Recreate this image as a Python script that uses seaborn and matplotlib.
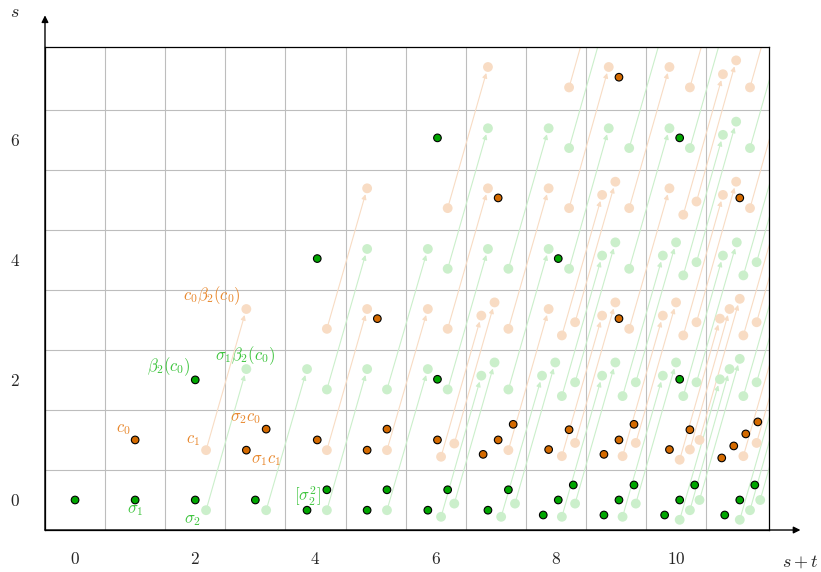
import matplotlib
matplotlib.use("Agg")
import matplotlib.pyplot as plt
import pandas as pd
import seaborn as sns
from matplotlib.patches import FancyArrowPatch

# permanent classes (solid dots)
green_solid_x = [0, 1, 2, 3, 3.86, 4.19, 4.86, 5.19, 5.87, 6.2, 6.87, 7.21,
                 7.79, 8.04, 8.29, 8.8, 9.05, 9.3, 9.81, 10.06, 10.31, 10.81, 11.06, 11.31,
                 2.0, 4.03, 6.03, 6.03, 8.04, 10.06, 10.06]
green_solid_y = [0, 0, 0, 0, -0.17, 0.17, -0.17, 0.17, -0.17, 0.17, -0.17, 0.17,
                 -0.25, 0, 0.25, -0.25, 0, 0.25, -0.25, 0, 0.25, -0.25, 0, 0.25,
                 2.0, 4.02, 6.03, 2.01, 4.02, 6.03, 2.01]
orange_solid_x = [1.0, 2.85, 3.18, 4.03, 4.86, 5.19, 6.03, 6.79, 7.04, 7.29,
                  7.88, 8.22, 8.8, 9.05, 9.3, 9.89, 10.23, 10.76, 10.96, 11.16, 11.36,
                  5.03, 7.04, 9.05, 9.05, 11.06]
orange_solid_y = [1.0, 0.83, 1.18, 1.0, 0.83, 1.18, 1.0, 0.76, 1.0, 1.26,
                  0.84, 1.17, 0.76, 1.0, 1.26, 0.84, 1.17, 0.7, 0.9, 1.1, 1.3,
                  3.02, 5.03, 3.02, 7.04, 5.03]

# differentials: source -> target (faded dots)
green_src_x = [2.18, 3.18, 4.19, 5.19, 6.09, 6.31, 7.09, 7.32, 8.1, 8.32, 9.11, 9.33,
               10.06, 10.23, 10.39, 11.06, 11.23, 11.4,
               4.19, 5.19, 6.2, 7.21, 8.1, 8.32, 9.11, 9.33, 10.12, 10.34, 11.12, 11.34,
               6.2, 7.21, 8.22, 9.22, 10.12, 10.34, 11.12, 11.34,
               8.22, 9.22, 10.23, 11.23]
green_src_y = [-0.17, -0.17, -0.17, -0.17, -0.28, -0.06, -0.28, -0.06, -0.28, -0.06, -0.28, -0.06,
               -0.33, -0.17, 0.0, -0.33, -0.17, 0.0,
               1.84, 1.84, 1.84, 1.84, 1.73, 1.96, 1.73, 1.96, 1.73, 1.96, 1.73, 1.96,
               3.85, 3.85, 3.85, 3.85, 3.74, 3.96, 3.74, 3.96,
               5.86, 5.86, 5.86, 5.86]
green_tgt_x = [2.85, 3.86, 4.86, 5.87, 6.76, 6.98, 7.77, 7.99, 8.77, 8.99, 9.78, 10.0,
               10.73, 10.89, 11.06, 11.73, 11.89, 12.06,
               4.86, 5.87, 6.87, 7.88, 8.77, 8.99, 9.78, 10.0, 10.78, 11.01, 11.79, 12.01,
               6.87, 7.88, 8.88, 9.89, 10.78, 11.0, 11.79, 12.0,
               8.88, 9.89, 10.89, 11.89]
green_tgt_y = [2.18, 2.18, 2.18, 2.18, 2.07, 2.29, 2.07, 2.29, 2.07, 2.29, 2.07, 2.29,
               2.01, 2.18, 2.35, 2.01, 2.18, 2.35,
               4.18, 4.18, 4.18, 4.18, 4.07, 4.29, 4.07, 4.29, 4.07, 4.29, 4.07, 4.29,
               6.19, 6.19, 6.19, 6.19, 6.08, 6.3, 6.08, 6.3,
               8.19, 8.19, 8.19, 8.19]

orange_src_x = [2.18, 4.19, 5.19, 6.09, 6.31, 7.21, 8.1, 8.32, 9.11, 9.33,
                10.06, 10.23, 10.39, 11.12, 11.34,
                4.19, 6.2, 7.21, 8.1, 8.32, 9.22, 10.12, 10.34, 11.12, 11.34,
                6.2, 8.22, 9.22, 10.12, 10.34, 11.23,
                8.22, 10.23, 11.23]
orange_src_y = [0.83, 0.83, 0.83, 0.72, 0.94, 0.83, 0.73, 0.95, 0.73, 0.95,
                0.67, 0.84, 1.0, 0.73, 0.95,
                2.85, 2.85, 2.85, 2.74, 2.96, 2.85, 2.74, 2.96, 2.74, 2.96,
                4.86, 4.86, 4.86, 4.75, 4.97, 4.86,
                6.87, 6.87, 6.87]
orange_tgt_x = [2.85, 4.86, 5.87, 6.76, 6.98, 7.88, 8.77, 8.99, 9.78, 10.0,
                10.73, 10.89, 11.06, 11.79, 12.0,
                4.86, 6.87, 7.88, 8.77, 8.99, 9.89, 10.78, 11.0, 11.79, 12.0,
                6.87, 8.88, 9.89, 10.78, 11.0, 11.89,
                8.88, 10.89, 11.89]
orange_tgt_y = [3.18, 3.18, 3.18, 3.07, 3.29, 3.18, 3.07, 3.29, 3.07, 3.29,
                3.02, 3.18, 3.35, 3.07, 3.29,
                5.19, 5.19, 5.19, 5.08, 5.3, 5.19, 5.08, 5.3, 5.08, 5.3,
                7.21, 7.21, 7.21, 7.09, 7.32, 7.21,
                9.21, 9.21, 9.21]

# class names
green_labels = [r"$\sigma_1$", r"$\sigma_2$", r"$\beta_2(c_0)$", r"$\sigma_1\beta_2(c_0)$", r"$[\sigma_2^2]$"]
green_label_x = [1.0, 1.945, 1.555, 2.833, 3.862]
green_label_y = [-0.155, -0.322, 2.222, 2.40, 0.055]
orange_labels = [r"$c_0$", r"$c_1$", r"$\sigma_2c_0$", r"$\sigma_1c_1$", r"$c_0\beta_2(c_0)$"]
orange_label_x = [0.795, 1.962, 2.833, 3.183, 2.278]
orange_label_y = [1.195, 1.01, 1.372, 0.678, 3.40]

x_ticks = [0, 2, 4, 6, 8, 10]
y_ticks = [0, 2, 4, 6]

GREEN = "#00a600"
ORANGE = "#d46a00"
GREEN_FADE = "#cbefcb"
ORANGE_FADE = "#f8dcc4"
GREEN_TEXT = "#3cc43c"
ORANGE_TEXT = "#e8872c"

sns.set_theme(style="white")
plt.rcParams["mathtext.fontset"] = "cm"
plt.rcParams["font.family"] = ["DejaVu Serif"]

fig = plt.figure(figsize=(8.21, 5.72), dpi=100)
ax = fig.add_axes([0.0548, 0.0734, 0.8814, 0.8441])
ax.set_xlim(-0.5, 11.54)
ax.set_ylim(-0.5, 7.54)

# grid on half-integers
ax.set_xticks([i + 0.5 for i in range(11)], minor=True)
ax.set_yticks([i + 0.5 for i in range(7)], minor=True)
ax.grid(which="minor", color="#bdbdbd", lw=0.8)
ax.grid(which="major", visible=False)
ax.set_axisbelow(True)

ax.set_xticks(x_ticks, labels=[f"${t}$" for t in x_ticks], fontsize=12.5)
ax.set_yticks(y_ticks, labels=[f"${t}$" for t in y_ticks], fontsize=12.5)
ax.tick_params(axis="x", which="both", length=0, pad=15)
ax.tick_params(axis="y", which="both", length=0, pad=18)
for sp in ax.spines.values():
    sp.set_color("black")
    sp.set_linewidth(0.9)


def draw_diffs(sx, sy, tx, ty, color):
    for a, b, c, d in zip(sx, sy, tx, ty):
        arr = FancyArrowPatch((a, b), (c, d), arrowstyle="-|>", mutation_scale=7,
                              lw=0.8, color=color, shrinkA=0, shrinkB=4.5, zorder=1)
        ax.add_patch(arr)


draw_diffs(green_src_x, green_src_y, green_tgt_x, green_tgt_y, GREEN_FADE)
draw_diffs(orange_src_x, orange_src_y, orange_tgt_x, orange_tgt_y, ORANGE_FADE)

faded = pd.DataFrame({
    "x": green_src_x + green_tgt_x + orange_src_x + orange_tgt_x,
    "y": green_src_y + green_tgt_y + orange_src_y + orange_tgt_y,
    "kind": ["g"] * (2 * len(green_src_x)) + ["o"] * (2 * len(orange_src_x)),
})
solid = pd.DataFrame({
    "x": green_solid_x + orange_solid_x,
    "y": green_solid_y + orange_solid_y,
    "kind": ["g"] * len(green_solid_x) + ["o"] * len(orange_solid_x),
})

sns.scatterplot(data=faded, x="x", y="y", hue="kind", palette={"g": GREEN_FADE, "o": ORANGE_FADE},
                s=50, linewidth=0, legend=False, ax=ax, zorder=2)
sns.scatterplot(data=solid, x="x", y="y", hue="kind", palette={"g": GREEN, "o": ORANGE},
                s=30, edgecolor="black", linewidth=0.8, legend=False, ax=ax, zorder=3)
ax.set_xlabel("")
ax.set_ylabel("")

for t, x, y in zip(green_labels, green_label_x, green_label_y):
    ax.text(x, y, t, color=GREEN_TEXT, fontsize=12, ha="center", va="center", zorder=4)
for t, x, y in zip(orange_labels, orange_label_x, orange_label_y):
    ax.text(x, y, t, color=ORANGE_TEXT, fontsize=12, ha="center", va="center", zorder=4)

# axis arrows
arrow = dict(arrowstyle="-|>", color="black", lw=1.0, mutation_scale=10, shrinkA=0, shrinkB=0)
ax.annotate("", xy=(1.044, 0), xytext=(0, 0), xycoords="axes fraction", arrowprops=arrow,
            annotation_clip=False)
ax.annotate("", xy=(0, 1.066), xytext=(0, 0), xycoords="axes fraction", arrowprops=arrow,
            annotation_clip=False)
ax.text(1.044, -0.066, r"$s+t$", transform=ax.transAxes, fontsize=13, ha="center", va="center")
ax.text(-0.042, 1.072, r"$s$", transform=ax.transAxes, fontsize=13, ha="center", va="center")

fig.savefig("out.png", dpi=100)
